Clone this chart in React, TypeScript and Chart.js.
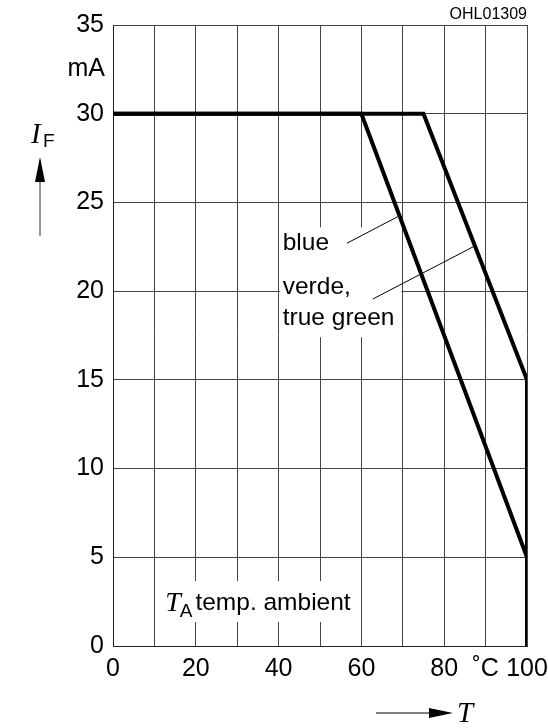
import React, { useEffect, useRef } from "react";
import { Chart, registerables } from "chart.js";

Chart.register(...registerables);

// Data
const blueTemp = [0, 60, 100, 100];
const blueCurrent = [30, 30, 5, 0];
const greenTemp = [0, 75, 100, 100];
const greenCurrent = [30, 30, 15, 0];

const xTickLabels = ["0", "", "20", "", "40", "", "60", "", "80", "˚C", "100"];
const yTickLabels = ["0", "5", "10", "15", "20", "25", "30", "35"];

const SANS = '"Liberation Sans", Arial, Helvetica, sans-serif';
const SERIF = '"Liberation Serif", "Times New Roman", serif';

const annotations = {
  id: "annotations",
  beforeDatasetsDraw(chart: any) {
    const { ctx, scales } = chart;
    const x = scales.x;
    const y = scales.y;
    ctx.save();
    ctx.fillStyle = "#ffffff";
    // label box for curve names
    const bx1 = x.getPixelForValue(40) + 1.5;
    const bx2 = x.getPixelForValue(70) - 1.5;
    const by1 = y.getPixelForValue(23.6);
    const by2 = y.getPixelForValue(17.4);
    ctx.fillRect(bx1, by1, bx2 - bx1, by2 - by1);
    // label box for T_A
    const tx1 = x.getPixelForValue(10.6);
    const tx2 = x.getPixelForValue(59.2);
    const ty1 = y.getPixelForValue(3.66);
    const ty2 = y.getPixelForValue(1.35);
    ctx.fillRect(tx1, ty1, tx2 - tx1, ty2 - ty1);
    ctx.restore();
  },
  afterDraw(chart: any) {
    const { ctx, scales, chartArea } = chart;
    const x = scales.x;
    const y = scales.y;
    ctx.save();
    ctx.fillStyle = "#000";
    ctx.strokeStyle = "#000";
    ctx.lineWidth = 1;

    // leader lines
    ctx.beginPath();
    ctx.moveTo(x.getPixelForValue(56.5), y.getPixelForValue(22.7));
    ctx.lineTo(x.getPixelForValue(68.8), y.getPixelForValue(24.2));
    ctx.moveTo(x.getPixelForValue(62.8), y.getPixelForValue(19.56));
    ctx.lineTo(x.getPixelForValue(87.0), y.getPixelForValue(22.5));
    ctx.stroke();

    // curve labels
    ctx.font = `24.5px ${SANS}`;
    ctx.textAlign = "left";
    ctx.textBaseline = "middle";
    const lx = x.getPixelForValue(41.0);
    ctx.fillText("blue", lx, y.getPixelForValue(22.7));
    ctx.fillText("verde,", lx, y.getPixelForValue(20.2));
    ctx.fillText("true green", lx, y.getPixelForValue(18.5));

    // T_A temp. ambient
    const tay = y.getPixelForValue(2.5);
    let tx = x.getPixelForValue(12.6);
    ctx.font = `italic 28px ${SERIF}`;
    ctx.textBaseline = "alphabetic";
    ctx.fillText("T", tx, tay + 9);
    tx += ctx.measureText("T").width - 1;
    ctx.font = `19px ${SANS}`;
    ctx.fillText("A", tx, tay + 15);
    tx += ctx.measureText("A").width + 3;
    ctx.font = `24.5px ${SANS}`;
    ctx.fillText("temp. ambient", tx, tay + 8);

    // mA unit label
    ctx.textAlign = "right";
    ctx.textBaseline = "middle";
    ctx.font = `25px ${SANS}`;
    ctx.fillText("mA", chartArea.left - 8, y.getPixelForValue(32.5));

    // figure id
    ctx.font = `16px ${SANS}`;
    ctx.textAlign = "right";
    ctx.textBaseline = "alphabetic";
    ctx.fillText("OHL01309", chartArea.right, chartArea.top - 6);

    // Y axis title I_F with arrow
    ctx.textAlign = "left";
    ctx.font = `italic 29px ${SERIF}`;
    ctx.fillText("I", 31, 143);
    ctx.font = `19px ${SANS}`;
    ctx.fillText("F", 43, 147);
    ctx.strokeStyle = "#333";
    ctx.beginPath();
    ctx.moveTo(40, 236);
    ctx.lineTo(40, 178);
    ctx.stroke();
    ctx.beginPath();
    ctx.moveTo(40, 157);
    ctx.lineTo(45, 182);
    ctx.lineTo(35, 182);
    ctx.closePath();
    ctx.fill();

    // X axis title arrow T
    ctx.strokeStyle = "#000";
    ctx.beginPath();
    ctx.moveTo(376, 713);
    ctx.lineTo(440, 713);
    ctx.stroke();
    ctx.beginPath();
    ctx.moveTo(453, 713);
    ctx.lineTo(429, 708);
    ctx.lineTo(429, 718);
    ctx.closePath();
    ctx.fill();
    ctx.font = `italic 29px ${SERIF}`;
    ctx.fillText("T", 457, 722);

    ctx.restore();
  },
};

export default function App() {
  const canvasRef = useRef<HTMLCanvasElement | null>(null);

  useEffect(() => {
    document.body.style.margin = "0";
    const canvas = canvasRef.current;
    if (!canvas) return;
    const chart = new Chart(canvas, {
      type: "line",
      data: {
        datasets: [
          {
            label: "blue",
            data: blueTemp.map((t, i) => ({ x: t, y: blueCurrent[i] })),
            borderColor: "#000",
            borderWidth: 4,
            pointRadius: 0,
            borderJoinStyle: "miter",
            fill: false,
            tension: 0,
          },
          {
            label: "verde, true green",
            data: greenTemp.map((t, i) => ({ x: t, y: greenCurrent[i] })),
            borderColor: "#000",
            borderWidth: 4,
            pointRadius: 0,
            borderJoinStyle: "miter",
            fill: false,
            tension: 0,
          },
        ],
      },
      options: {
        animation: false,
        responsive: false,
        maintainAspectRatio: false,
        devicePixelRatio: 1,
        layout: { padding: { left: 0, right: 21, top: 25, bottom: 0 } },
        plugins: {
          legend: { display: false },
          tooltip: { enabled: false },
          title: { display: false },
        },
        scales: {
          x: {
            type: "linear",
            min: 0,
            max: 100,
            grid: { color: "#444", lineWidth: 1, drawTicks: false },
            border: { color: "#222", width: 1 },
            ticks: {
              stepSize: 10,
              autoSkip: false,
              maxRotation: 0,
              padding: 8,
              color: "#000",
              font: { family: SANS, size: 25 },
              callback: (v: any) => {
                const i = Math.round(Number(v) / 10);
                return xTickLabels[i] ?? "";
              },
            },
            afterFit: (s: any) => {
              s.height = 82;
              s.paddingLeft = 0;
              s.paddingRight = 0;
            },
          },
          y: {
            type: "linear",
            min: 0,
            max: 35,
            grid: { color: "#444", lineWidth: 1, drawTicks: false },
            border: { color: "#222", width: 1 },
            ticks: {
              stepSize: 5,
              padding: 9,
              color: "#000",
              font: { family: SANS, size: 25 },
              callback: (v: any) => {
                const i = Math.round(Number(v) / 5);
                return yTickLabels[i] ?? "";
              },
            },
            afterFit: (s: any) => {
              s.width = 113;
              s.paddingTop = 0;
              s.paddingBottom = 0;
            },
          },
        },
      },
      plugins: [annotations],
    });
    return () => chart.destroy();
  }, []);

  return (
    <div style={{ width: 548, height: 728, background: "#fff" }}>
      <canvas ref={canvasRef} width={548} height={728} style={{ display: "block" }} />
    </div>
  );
}
